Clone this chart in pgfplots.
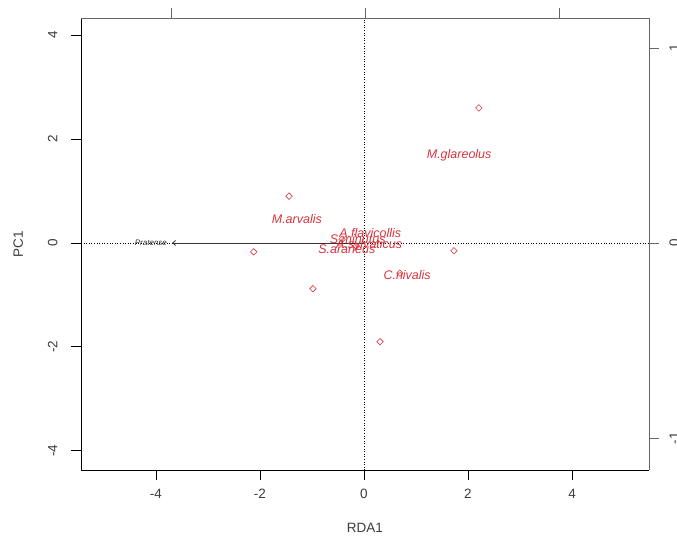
\documentclass[border=0pt]{standalone}
\usepackage{pgfplots}
\pgfplotsset{compat=1.18}
\usetikzlibrary{arrows.meta}
\usepackage{fontspec}
\setmainfont{Liberation Sans}
\definecolor{sp}{RGB}{216,52,62}
\definecolor{tk}{RGB}{60,60,60}
\begin{document}
\begin{tikzpicture}
\begin{axis}[
  scale only axis, width=568pt, height=452pt,
  xmin=-5.44, xmax=5.48, ymin=-4.37, ymax=4.33,
  axis x line*=bottom, axis y line*=left,
  axis line style={-, black, line width=0.8pt},
  tick align=outside, major tick length=10pt,
  tick style={black, line width=0.8pt},
  xtick={-4,-2,0,2,4}, ytick={-4,-2,0,2,4},
  /pgf/number format/assume math mode=true,
  ticklabel style={font=\fontsize{13.5}{15}\selectfont, text=tk},
  xticklabel style={yshift=-6pt},
  yticklabel style={rotate=90, anchor=south, yshift=10pt},
  xlabel={RDA1}, ylabel={PC1},
  label style={font=\fontsize{13.5}{16}\selectfont, text=tk},
  xlabel style={yshift=-17pt},
  ylabel style={yshift=18pt},
  clip=false,
]
\coordinate (bl) at (rel axis cs:0,0);
\coordinate (tr) at (rel axis cs:1,1);
% dotted zero lines
\addplot[black, dotted, line width=0.6pt] coordinates {(-5.44,0) (5.48,0)};
\addplot[black, dotted, line width=0.6pt] coordinates {(0,-4.37) (0,4.33)};
% Pratense arrow
\addplot[black!80, line width=0.8pt, -{Straight Barb[length=3pt,width=5pt]}] coordinates {(0,0) (-3.69,0)};
\node[font=\fontsize{8}{9}\selectfont\itshape, text=black!80, anchor=east] at (axis cs:-3.72,0) {Pratense};
% site/species points
\addplot[only marks, mark=square, mark size=2.3pt, mark options={rotate=45, sp, line width=0.6pt}] coordinates {
  (2.21,2.60) (-1.44,0.90) (-2.12,-0.17) (-0.98,-0.88) (1.73,-0.15)
  (0.31,-1.90) (0.69,-0.58) (-0.42,0.07) (-0.15,-0.06)
};
\begin{scope}[every node/.style={font=\fontsize{12.5}{14}\selectfont\itshape, text=sp}]
\node at (axis cs:1.83,1.69) {M.glareolus};
\node at (axis cs:-1.29,0.47) {M.arvalis};
\node at (axis cs:0.12,0.19) {A.flavicollis};
\node at (axis cs:0.10,-0.04) {A.sylvaticus};
\node at (axis cs:-0.12,0.08) {S.minutus};
\node at (axis cs:-0.33,-0.12) {S.araneus};
\node at (axis cs:0.83,-0.62) {C.nivalis};
\end{scope}
\end{axis}
\begin{axis}[
  scale only axis, width=568pt, height=452pt,
  xmin=-1.464, xmax=1.464, ymin=-1.164, ymax=1.154,
  axis x line*=top, axis y line*=right,
  axis line style={-, black!60, line width=0.8pt},
  tick align=outside, major tick length=10pt,
  tick style={black!60, line width=0.8pt},
  xtick={-1,0,1}, ytick={-1,0,1},
  xticklabels={},
  /pgf/number format/assume math mode=true,
  ticklabel style={font=\fontsize{13.5}{15}\selectfont, text=tk},
  yticklabel style={rotate=90, anchor=north, yshift=-7pt},
]
\addplot[draw=none] coordinates {(0,0)};
\end{axis}
\pgfresetboundingbox
\useasboundingbox ([shift={(-81pt,-72pt)}]bl) rectangle ([shift={(28pt,18pt)}]tr);
\end{tikzpicture}
\end{document}
